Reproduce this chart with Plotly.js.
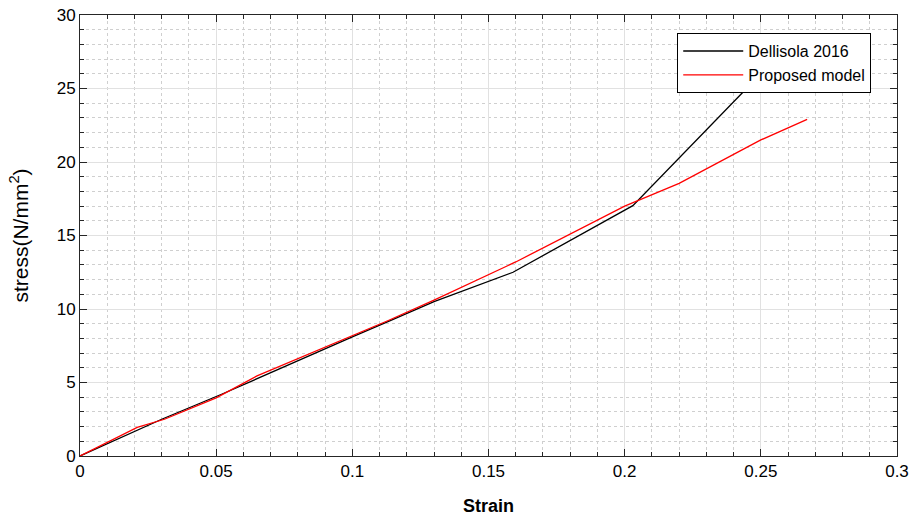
<!DOCTYPE html>
<html>
<head>
<meta charset="utf-8">
<script src="https://cdn.plot.ly/plotly-3.0.1.min.js"></script>
<style>html,body{margin:0;padding:0;background:#fff;}#chart{width:911px;height:520px;}</style>
</head>
<body>
<div id="chart"></div>
<script>
const dellisolaStrain = [0, 0.02, 0.03, 0.052, 0.08, 0.1, 0.115, 0.13, 0.159, 0.203, 0.25];
const dellisolaStress = [0, 1.65, 2.5, 4.2, 6.5, 8.1, 9.3, 10.5, 12.5, 17.03, 26.0];
const modelStrain = [0, 0.021, 0.031, 0.05, 0.065, 0.085, 0.113, 0.13, 0.16, 0.2, 0.22, 0.25, 0.267];
const modelStress = [0, 1.95, 2.5, 3.95, 5.45, 7.0, 9.2, 10.6, 13.2, 17.0, 18.55, 21.5, 22.9];
const seriesNames = ["Dellisola 2016", "Proposed model"];
const xTicks = [0, 0.05, 0.1, 0.15, 0.2, 0.25, 0.3];
const xTickText = ["0", "0.05", "0.1", "0.15", "0.2", "0.25", "0.3"];
const yTicks = [0, 5, 10, 15, 20, 25, 30];

const traces = [
  {x: dellisolaStrain, y: dellisolaStress, name: seriesNames[0], mode: 'lines', line: {color: '#000000', width: 1.3}},
  {x: modelStrain, y: modelStress, name: seriesNames[1], mode: 'lines', line: {color: '#ff0000', width: 1.3}}
];

const axisCommon = {
  showline: true, linecolor: '#262626', linewidth: 1, mirror: 'ticks',
  ticks: 'inside', ticklen: 7, tickcolor: '#262626', tickwidth: 1,
  showgrid: true, gridcolor: '#e1e1e1', gridwidth: 1,
  zeroline: false,
  tickfont: {family: 'Liberation Sans, Arial, sans-serif', size: 17, color: '#000'},
  tickmode: 'array'
};

const layout = {
  width: 911, height: 520,
  margin: {l: 80, r: 14, t: 15, b: 64},
  paper_bgcolor: '#ffffff', plot_bgcolor: '#ffffff',
  showlegend: true,
  xaxis: Object.assign({}, axisCommon, {
    range: [0, 0.3], tickvals: xTicks, ticktext: xTickText,
    title: {text: '<b>Strain</b>', font: {family: 'Liberation Sans, Arial, sans-serif', size: 18, color: '#000'}, standoff: 18},
    minor: {dtick: 0.01, tick0: 0, ticks: 'inside', ticklen: 4, tickcolor: '#262626', showgrid: true, gridcolor: '#cfcfcf', griddash: 'dot', gridwidth: 1}
  }),
  yaxis: Object.assign({}, axisCommon, {
    range: [0, 30], tickvals: yTicks,
    title: {text: 'stress(N/mm<sup>2</sup>)', font: {family: 'Liberation Sans, Arial, sans-serif', size: 21, color: '#000'}, standoff: 22},
    minor: {dtick: 1, tick0: 0, ticks: 'inside', ticklen: 4, tickcolor: '#262626', showgrid: true, gridcolor: '#cfcfcf', griddash: 'dot', gridwidth: 1}
  }),
  legend: {
    x: 0.731, y: 0.959, xanchor: 'left', yanchor: 'top',
    bgcolor: '#ffffff', bordercolor: '#000000', borderwidth: 1,
    font: {family: 'Liberation Sans, Arial, sans-serif', size: 16, color: '#000'},
    itemwidth: 60, entrywidth: 185, entrywidthmode: 'pixels',
    tracegroupgap: 0
  }
};

Plotly.newPlot('chart', traces, layout, {displayModeBar: false, staticPlot: true});
</script>
</body>
</html>
